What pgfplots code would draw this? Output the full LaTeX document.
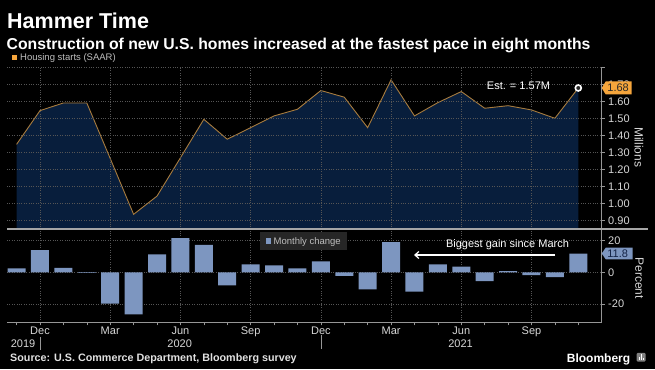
\documentclass[border=0pt]{standalone}
\usepackage{pgfplots}
\pgfplotsset{compat=1.18}
\usepackage{pgfplotstable}
\usepackage{fontspec}
\setmainfont{Liberation Sans}
\usetikzlibrary{arrows.meta}
\definecolor{navy}{RGB}{8,30,60}
\definecolor{linec}{RGB}{168,124,62}
\definecolor{barc}{RGB}{125,150,192}
\definecolor{gridc}{RGB}{85,85,85}
\definecolor{tickc}{RGB}{215,215,215}
\definecolor{axc}{RGB}{150,150,150}
\definecolor{orangec}{RGB}{245,165,60}
\definecolor{legc}{RGB}{190,190,190}
\definecolor{boxc}{RGB}{38,38,38}
\definecolor{darkc}{RGB}{40,40,40}
\definecolor{logoc}{RGB}{130,130,130}
\definecolor{srcc}{RGB}{225,225,225}
\definecolor{navytext}{RGB}{20,35,70}
\pgfplotstableread{
i v
0 1.349
1 1.547
2 1.592
3 1.592
4 1.266
5 0.938
6 1.045
7 1.270
8 1.496
9 1.379
10 1.447
11 1.516
12 1.555
13 1.665
14 1.626
15 1.447
16 1.728
17 1.516
18 1.594
19 1.659
20 1.561
21 1.576
22 1.551
23 1.502
24 1.680
}\starts
\pgfplotstableread{
i v
0 2.5
1 14.0
2 2.7
3 -0.3
4 -19.7
5 -26.4
6 11.3
7 21.4
8 17.2
9 -8.2
10 5.0
11 4.4
12 2.5
13 6.9
14 -2.3
15 -10.7
16 18.9
17 -12.2
18 5.0
19 3.5
20 -5.5
21 0.8
22 -1.7
23 -3.1
24 11.8
}\changes
\begin{document}
\begin{tikzpicture}[x=1pt,y=1pt]
\fill[black] (0,0) rectangle (655,369);
\pgfplotsset{
  every axis/.append style={
    scale only axis, width=594.7pt,
    xmin=-0.41, xmax=25,
    /pgf/number format/assume math mode=true,
    tick label style={font=\fontsize{11}{13}\selectfont, text=tickc},
    grid style={gridc, dotted, line width=0.6pt},
    major tick length=3pt, minor tick length=3pt,
    tick style={axc, line width=0.6pt},
    tick align=outside,
  }
}
\begin{axis}[name=up, at={(7pt,139.7pt)}, anchor=south west, height=162.6pt,
  ymin=0.85, ymax=1.805,
  axis x line*=bottom, axis y line*=right,
  axis line style={-},
  x axis line style={draw=none},
  y axis line style={axc, line width=0.8pt},
  xtick={1,4,7,10,13,16,19,22}, xticklabels={}, xtick style={draw=none},
  xmajorgrids, ymajorgrids,
  ytick={0.9,1,1.1,1.2,1.3,1.4,1.5,1.6,1.7,1.8},
  yticklabels={0.90,1.00,1.10,1.20,1.30,1.40,1.50,1.60,1.70,{}},
  axis on top,
]
\addplot[fill=navy, draw=none] table[x=i,y=v] {\starts} \closedcycle;
\addplot[linec, line width=0.9pt] table[x=i,y=v] {\starts};
\addplot[only marks, mark=*, mark size=3pt, mark options={draw=white, fill=darkc, line width=1.6pt}] coordinates {(24,1.68)};
\coordinate (l168) at (axis cs:25,1.68);
\end{axis}
\begin{axis}[name=lo, at={(7pt,46.7pt)}, anchor=south west, height=93pt,
  ymin=-31.4, ymax=27,
  axis x line*=bottom, axis y line*=right,
  axis line style={-, axc, line width=0.8pt},
  xtick={1,4,7,10,13,16,19,22}, xticklabels={Dec,Mar,Jun,Sep,Dec,Mar,Jun,Sep},
  minor xtick={0,...,24},
  xticklabel style={anchor=north, inner sep=0pt, text height=8pt, text depth=2pt, yshift=-1pt},
  xmajorgrids, ymajorgrids,
  ytick={-20,0,20}, yticklabels={-20,0,20},
  ybar, bar width=18pt,
]
\addplot[fill=barc, draw=none] table[x=i,y=v] {\changes};
\coordinate (l118) at (axis cs:25,11.8);
\end{axis}
% separator between panels
\draw[axc!85, line width=1.8pt] (7,139.7) -- (648,139.7);
% titles
\node[anchor=base west, inner sep=0, text=white, font=\fontsize{21.5}{24}\selectfont\bfseries] at (7,340.6) {Hammer Time};
\node[anchor=base west, inner sep=0, text=white, font=\fontsize{15.75}{18}\selectfont\bfseries] at (6.5,319.7) {Construction of new U.S. homes increased at the fastest pace in eight months};
% legend 1
\fill[orangec] (11.7,309) rectangle (17,314.3);
\node[anchor=base west, inner sep=0, text=legc, font=\fontsize{9.5}{11}\selectfont] at (20,308.3) {Housing starts (SAAR)};
% legend 2
\fill[boxc] (260,119) rectangle (346.7,136.7);
\fill[barc] (265.7,125.2) rectangle (271,130.5);
\node[anchor=base west, inner sep=0, text=legc, font=\fontsize{9.5}{11}\selectfont] at (273.5,124.5) {Monthly change};
% annotations
\node[anchor=base, inner sep=0, text=white, font=\fontsize{11}{13}\selectfont] at (518.5,279.7) {Est. = 1.57M};
\node[anchor=base, inner sep=0, text=white, font=\fontsize{11}{13}\selectfont] at (507.5,121.3) {Biggest gain since March};
\draw[white, line width=1.2pt, -{Straight Barb[length=4pt,width=7pt]}] (555,114) -- (414,114);
% value labels on axes
\fill[orangec] (l168) -- ++(4,6.5) -- ++(26,0) -- ++(0,-13) -- ++(-26,0) -- cycle;
\node[anchor=west, inner sep=0, text=darkc, font=\fontsize{11}{13}\selectfont] at ([xshift=5.5pt]l168) {1.68};
\fill[barc] (l118) -- ++(4,5.8) -- ++(27,0) -- ++(0,-11.6) -- ++(-27,0) -- cycle;
\node[anchor=west, inner sep=0, text=navytext, font=\fontsize{11}{13}\selectfont] at ([xshift=5.5pt]l118) {11.8};
% axis titles
\node[rotate=-90, anchor=center, inner sep=0, text=tickc, font=\fontsize{12}{14}\selectfont] at (639,221.7) {Millions};
\node[rotate=-90, anchor=center, inner sep=0, text=tickc, font=\fontsize{12}{14}\selectfont] at (639.5,90.7) {Percent};
% years
\node[anchor=base east, inner sep=0, text=tickc, font=\fontsize{11}{13}\selectfont] at (35.5,21.7) {2019};
\node[anchor=base, inner sep=0, text=tickc, font=\fontsize{11}{13}\selectfont] at (179.7,21.7) {2020};
\node[anchor=base, inner sep=0, text=tickc, font=\fontsize{11}{13}\selectfont] at (460.5,21.7) {2021};
\draw[axc, line width=0.7pt] (40,32.3) -- (40,19);
\draw[axc, line width=0.7pt] (321,34) -- (321,20);
% source
\node[anchor=base west, inner sep=0, text=srcc, font=\fontsize{10.75}{12}\selectfont\bfseries] at (10,7.3) {Source: U.S. Commerce Department, Bloomberg survey};
% logo
\node[anchor=base west, inner sep=0, text=white, font=\fontsize{12}{14}\selectfont\bfseries] at (566.7,7) {Bloomberg};
\fill[logoc, rounded corners=1pt] (636.7,7.3) rectangle (645.5,16);
\fill[white] (638.5,9) rectangle (639.6,12.5);
\fill[white] (640.5,9) rectangle (641.6,14.5);
\fill[white] (642.5,9) rectangle (643.6,11.5);
\pgfresetboundingbox
\useasboundingbox (0,0) rectangle (655,369);
\end{tikzpicture}
\end{document}
